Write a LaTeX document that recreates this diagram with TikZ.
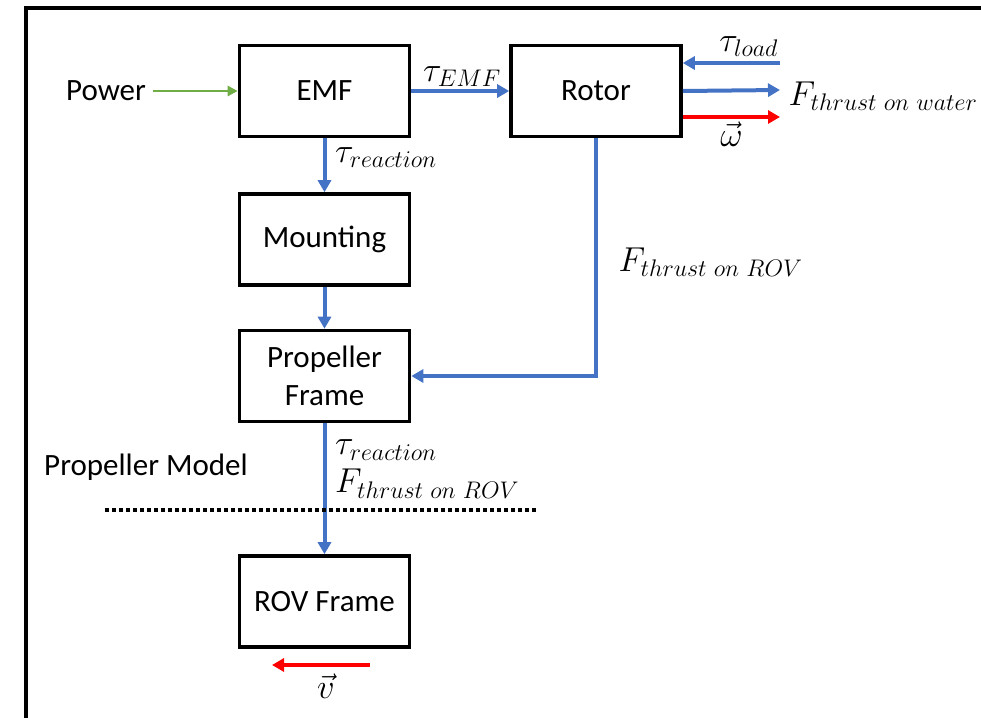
\documentclass[tikz,border=0pt]{standalone}
\usepackage{amsmath}
\usepackage{fontspec}
\setmainfont{Carlito}
\DeclareMathSizes{16}{16}{12}{9}
\usepackage{tikz}
\usetikzlibrary{arrows.meta, positioning}
\definecolor{flowblue}{HTML}{4472C4}
\definecolor{flowgreen}{HTML}{70AD47}
\definecolor{flowred}{HTML}{FF0000}
\tikzstyle{block} = [rectangle, minimum width=85pt, minimum height=45.5pt, text centered, align=center, draw=black, line width=1.8pt, font=\fontsize{15.5}{19}\selectfont]
\tikzstyle{plain} = [font=\fontsize{15.5}{19}\selectfont]
\tikzstyle{sig} = [text=black, font=\fontsize{16}{19}\selectfont]
\tikzstyle{arrow} = [flowblue, line width=2pt, -{Triangle[length=6pt,width=6.5pt]}]
\tikzstyle{redarrow} = [arrow, draw=flowred]
\tikzstyle{greenarrow} = [flowgreen, line width=1.3pt, -{Triangle[length=5pt,width=5pt]}]

\begin{document}
\begin{tikzpicture}[x=0.5pt, y=-0.5pt]
\useasboundingbox (0,0) rectangle (981,718);
\begin{scope}
\clip (0,0) rectangle (981,718);
\draw[line width=2pt] (26,740) |- (1000,8); % frame, cut off at right and bottom
\end{scope}
\node (emf) [block] at (324.5,91) {EMF};
\node (rotor) [block, right of=emf, node distance=135.75pt] {Rotor};
\node (mount) [block, below of=emf, node distance=74.25pt] {Mounting};
\node (pframe) [block, below of=mount, node distance=68.25pt] {Propeller\\Frame};
\node (rovframe) [block, below of=pframe, node distance=112.75pt] {ROV Frame};
\node (power) [plain] at (106,91) {Power};
\node (pmodel) [plain] at (146,467) {Propeller Model};
\coordinate (loadin) at (780,63);
\coordinate (waterout) at (780,90);
\coordinate (omegaout) at (780,117);
\coordinate (vstart) at (370,665);
\coordinate (vend) at (272,665);
\coordinate (dotl) at (105,510);
\coordinate (dotr) at (537,510);
\draw [greenarrow] (power.east) -- (emf.west);
\draw [arrow] (emf.east) -- node[sig, above, pos=0.52, yshift=-2pt] {$\tau_{EMF}$} (rotor.west);
\draw [arrow] (emf.south) -- node[sig, right, pos=0.35, xshift=1pt] {$\tau_{reaction}$} (mount.north);
\draw [arrow] (mount.south) -- (pframe.north);
\draw [arrow] (rotor.south) |- node[sig, right, pos=0.26, xshift=7pt] {$F_{thrust\ on\ ROV}$} (pframe.east);
\draw [arrow] (pframe.south) -- node[sig, right, pos=0.35, align=left, xshift=1pt] {$\tau_{reaction}$\\$F_{thrust\ on\ ROV}$} (rovframe.north);
\draw [arrow] (loadin) -- node[sig, above, pos=0.32, yshift=-1pt] {$\tau_{load}$} (loadin -| rotor.east);
\draw [arrow] (rotor.east) -- (waterout) node[sig, right, yshift=-3pt] {$F_{thrust\ on\ water}$};
\draw [redarrow] (omegaout -| rotor.east) -- node[sig, below, yshift=2pt] {$\vec{\omega}$} (omegaout);
\draw [redarrow] (vstart) -- node[sig, below, pos=0.45] {$\vec{v}$} (vend);
\draw [line width=2pt, dash pattern=on 2pt off 1.5pt] (dotl) -- (dotr);
\end{tikzpicture}
\end{document}
